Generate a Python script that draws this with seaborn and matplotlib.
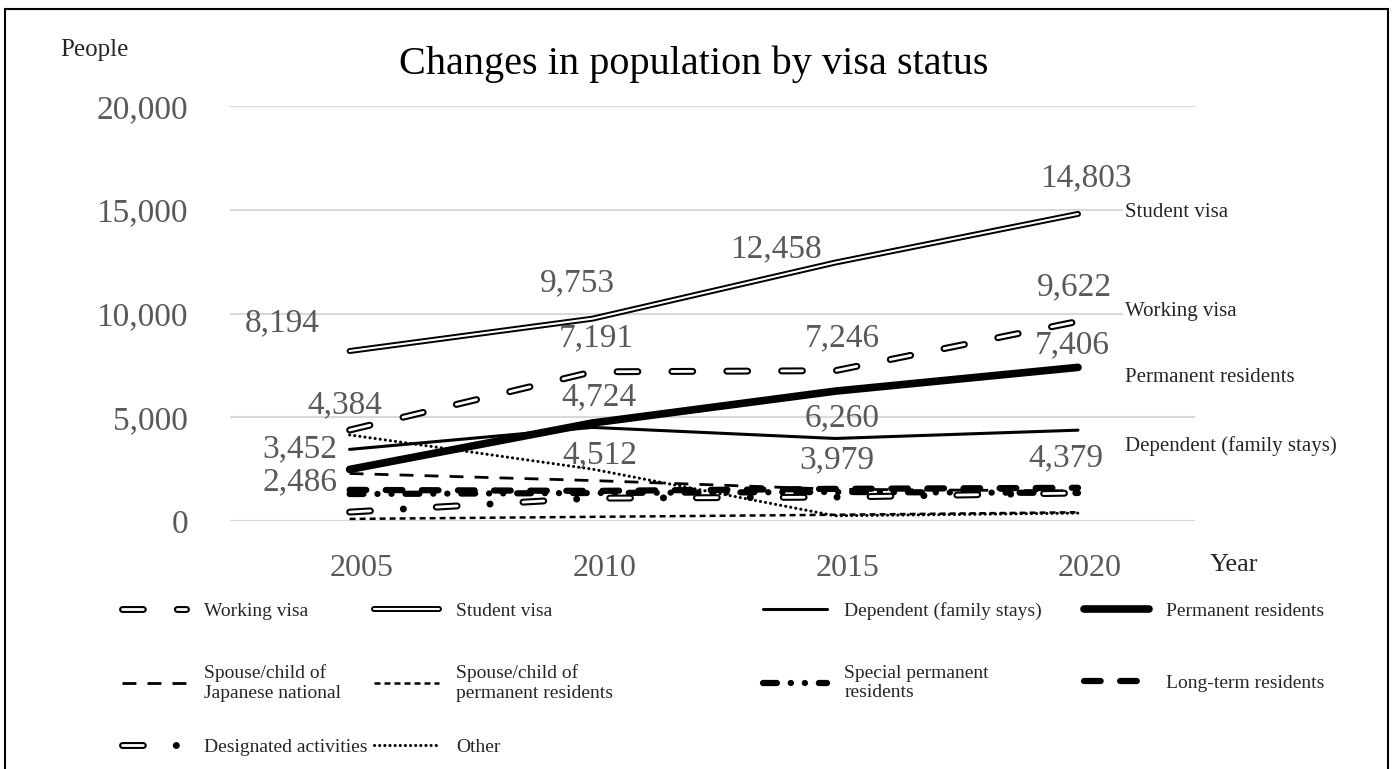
import matplotlib
matplotlib.use("Agg")
import matplotlib.pyplot as plt
import seaborn as sns
from matplotlib.legend_handler import HandlerTuple
from matplotlib.patches import Rectangle
from matplotlib.ticker import FuncFormatter
from matplotlib.transforms import ScaledTranslation

# data
years = [2005, 2010, 2015, 2020]
working_visa = [4384, 7191, 7246, 9622]
student_visa = [8194, 9753, 12458, 14803]
dependent = [3452, 4512, 3979, 4379]
permanent = [2486, 4724, 6260, 7406]
spouse_japanese = [2290, 1950, 1530, 1450]
spouse_permanent = [100, 200, 300, 420]
special_permanent = [1300, 1350, 1400, 1350]
long_term = [1500, 1450, 1550, 1600]
designated = [430, 1100, 1150, 1350]
other = [4150, 2500, 250, 380]

names = ["Working visa", "Student visa", "Dependent (family stays)", "Permanent residents",
         "Spouse/child of\nJapanese national", "Spouse/child of\npermanent residents",
         "Special permanent\nresidents", "Long-term residents",
         "Designated activities", "Other"]
values = [working_visa, student_visa, dependent, permanent, spouse_japanese,
          spouse_permanent, special_permanent, long_term, designated, other]
side_labels = ["Student visa", "Working visa", "Permanent residents", "Dependent (family stays)"]

# line layers: (linewidth, colour, linestyle, capstyle)
styles = [
    [(5.0, "black", (0, (15, 24.5)), "round"), (2.0, "white", (0, (15, 24.5)), "round")],
    [(4.3, "black", "-", "round"), (1.5, "white", "-", "round")],
    [(2.2, "black", "-", "round")],
    [(5.5, "black", "-", "round")],
    [(2.0, "black", (0, (10, 8)), "butt")],
    [(1.8, "black", (0, (4.3, 2.9)), "butt")],
    [(4.5, "black", (0, (10, 10, 0.1, 10, 0.1, 10)), "round")],
    [(4.5, "black", (0, (12, 14)), "round")],
    [(5.0, "black", (0, (15, 23.7, 0.1, 23.7)), "round"), (2.0, "white", (0, (15, 47.5)), "round")],
    [(2.2, "black", (0, (0.1, 3.6)), "round")],
]

sns.set_style("white")
plt.rcParams["font.family"] = ["Liberation Serif", "DejaVu Serif"]
plt.rcParams["lines.scale_dashes"] = False

fig, ax = plt.subplots(figsize=(13.92, 7.69), dpi=100)
fig.subplots_adjust(left=0.165, right=0.8585, bottom=0.3225, top=0.862)

handles = []
for k, (vals, layers) in enumerate(zip(values, styles)):
    group = []
    for lw, col, ls, cap in layers:
        n = len(ax.lines)
        sns.lineplot(x=years, y=vals, ax=ax, color=col, linewidth=lw, linestyle=ls,
                     dash_capstyle=cap, solid_capstyle=cap, errorbar=None, legend=False,
                     zorder=3 + k)
        group.append(ax.lines[n])
    handles.append(tuple(group))

# value labels (offsets in pixels)
grey = "#595959"
label_sets = [student_visa, working_visa, permanent, dependent]
offsets = [
    [(-67, 28), (-15, 36), (-59, 14), (8, 36)],
    [(-5, 25), (4, 34), (7, 33), (-4, 34)],
    [(-50, -13), (7, 26), (7, -27), (-6, 22)],
    [(-50, 0), (7, -28), (2, -22), (-12, -28)],
]
for vals, offs in zip(label_sets, offsets):
    for x, v, off in zip(years, vals, offs):
        ax.annotate(f"{v:,}", (x, v), xytext=off, textcoords="offset pixels",
                    ha="center", va="center", fontsize=24, color=grey, zorder=20)

ax.set_ylim(0, 20000)
ax.set_yticks(range(0, 20001, 5000))
ax.yaxis.set_major_formatter(FuncFormatter(lambda v, p: f"{int(v):,}"))
ax.set_xlim(2002.53, 2022.41)
ax.set_xticks(years)
ax.set_xlabel("")
ax.set_ylabel("")
ax.grid(axis="y", color="#d9d9d9", linewidth=1.5)
ax.grid(axis="x", visible=False)
ax.set_axisbelow(True)
for s in ax.spines.values():
    s.set_visible(False)
ax.tick_params(axis="y", length=0, pad=30, labelsize=24, labelcolor=grey)
ax.tick_params(axis="x", length=0, pad=24, labelsize=23, labelcolor=grey)
shift = ScaledTranslation(0.12, 0, fig.dpi_scale_trans)
for lbl in ax.get_xticklabels():
    lbl.set_transform(lbl.get_transform() + shift)

fig.text(0.4986, 0.917, "Changes in population by visa status", ha="center", va="center",
         fontsize=29, color="black")
fig.text(0.043, 0.9346, "People", ha="left", va="center", fontsize=18)
fig.text(0.869, 0.265, "Year", ha="left", va="center", fontsize=19)

side_y = [0.7243, 0.5943, 0.5085, 0.42]
for lab, y in zip(side_labels, side_y):
    fig.text(0.808, y, lab, ha="left", va="center", fontsize=15,
             bbox=dict(facecolor="white", edgecolor="none", pad=1), zorder=30)

# legend laid out on a 4-column grid, one entry at a time
col_x = [0.0876, 0.269, 0.548, 0.779]
row_y = [0.2055, 0.1118, 0.0286]
for i, (h, lab) in enumerate(zip(handles, names)):
    r, c = divmod(i, 4)
    fig.legend([h], [lab], loc="center left", bbox_to_anchor=(col_x[c], row_y[r]),
               frameon=False, fontsize=14, handlelength=3.3, handletextpad=0.9,
               borderpad=0, borderaxespad=0,
               handler_map={tuple: HandlerTuple(ndivide=1)})

fig.patches.append(Rectangle((5 / 1392, -0.05), 1383 / 1392, 1.05 - 9 / 769,
                             transform=fig.transFigure, fill=False, edgecolor="black",
                             linewidth=1.5))

fig.savefig("out.png", dpi=100)
